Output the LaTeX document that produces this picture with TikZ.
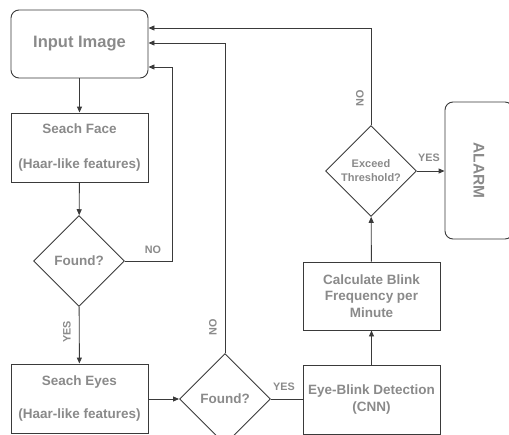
\documentclass[tikz,border=0pt]{standalone}
\usepackage{fontspec}
\setmainfont{Liberation Sans}
\usetikzlibrary{shapes.geometric,arrows.meta}
\definecolor{txt}{HTML}{8A8A8A}
\definecolor{ln}{HTML}{3A3A3A}
\tikzset{
  base/.style={draw=ln, line width=0.9pt, text=txt, font=\bfseries, inner sep=0pt, align=center},
  procbox/.style={base, rectangle, minimum width=137pt},
  roundbox/.style={base, rectangle, rounded corners=8pt},
  decision/.style={base, diamond, minimum width=91pt, minimum height=91pt},
  flow/.style={draw=ln, line width=0.9pt, -{Triangle[length=6pt,width=5pt]}},
  line/.style={draw=ln, line width=0.9pt},
  tag/.style={text=txt, font=\bfseries\fontsize{10.8}{12}\selectfont, inner sep=1pt}
}
\begin{document}
\begin{tikzpicture}[x=1pt,y=-1pt]
\useasboundingbox (0,0) rectangle (509,434);
\clip (0,0) rectangle (509,434);

% process steps
\node[roundbox, minimum width=137pt, minimum height=68pt, font=\bfseries\fontsize{16.5}{19}\selectfont] (input) at (79.5,44) {Input Image};
\node[procbox, minimum height=69pt, font=\bfseries\fontsize{13.5}{16}\selectfont] (face) at (79.5,147.5) {Seach Face\\[19pt](Haar-like features)};
\node[decision, font=\bfseries\fontsize{13.5}{16}\selectfont] (found1) at (79,261) {Found?};
\node[procbox, minimum height=69pt, font=\bfseries\fontsize{13.5}{16}\selectfont] (eyes) at (79.5,398.5) {Seach Eyes\\[17pt](Haar-like features)};
\node[decision, font=\bfseries\fontsize{13.5}{16}\selectfont] (found2) at (225,399) {Found?};
\node[procbox, minimum height=69pt, font=\bfseries\fontsize{13.5}{17}\selectfont] (blink) at (371.5,399.5) {Eye-Blink Detection\\(CNN)};
\node[procbox, minimum height=68pt, font=\bfseries\fontsize{13.5}{16.5}\selectfont] (calc) at (371.5,296) {Calculate Blink\\Frequency per\\Minute};
\node[decision, font=\bfseries\fontsize{11}{14}\selectfont] (exceed) at (371,171) {Exceed\\Threshold?};
\node[roundbox, minimum width=68pt, minimum height=137pt, font=\bfseries\fontsize{15.5}{18}\selectfont] (alarm) at (479,170.5) {\rotatebox{-90}{ALARM}};

% feedback corners
\coordinate (c1) at (172,261);
\coordinate (c2) at (225,43);
\coordinate (c3) at (371,28);

% main flow
\draw[flow] (input) -- (face);
\draw[flow] (face) -- (found1);
\draw[flow] (found1) -- (eyes);
\draw[flow] (eyes.east |- found2.west) -- (found2.west);
\draw[line] (found2.east) -- (blink.west |- found2.east);
\draw[flow] (blink) -- (calc);
\draw[flow] (calc) -- (exceed);
\draw[flow] (exceed.east) -- (alarm.west |- exceed.east);

% loops back to the input
\draw[flow] (found1.east) -- (c1) |- ([yshift=-23pt]input.east);
\draw[flow] (found2.north) -- (c2) -- (input.east |- c2);
\draw[flow] (exceed.north) -- (c3) -- (input.east |- c3);

% branch labels
\node[tag] (no1) at (153,250) {NO};
\node[tag, rotate=90] (yes1) at (67,332) {YES};
\node[tag, rotate=90] (no2) at (213,327) {NO};
\node[tag] (yes2) at (284,387) {YES};
\node[tag, rotate=90] (no3) at (360,98) {NO};
\node[tag] (yes3) at (429,158) {YES};
\end{tikzpicture}
\end{document}
